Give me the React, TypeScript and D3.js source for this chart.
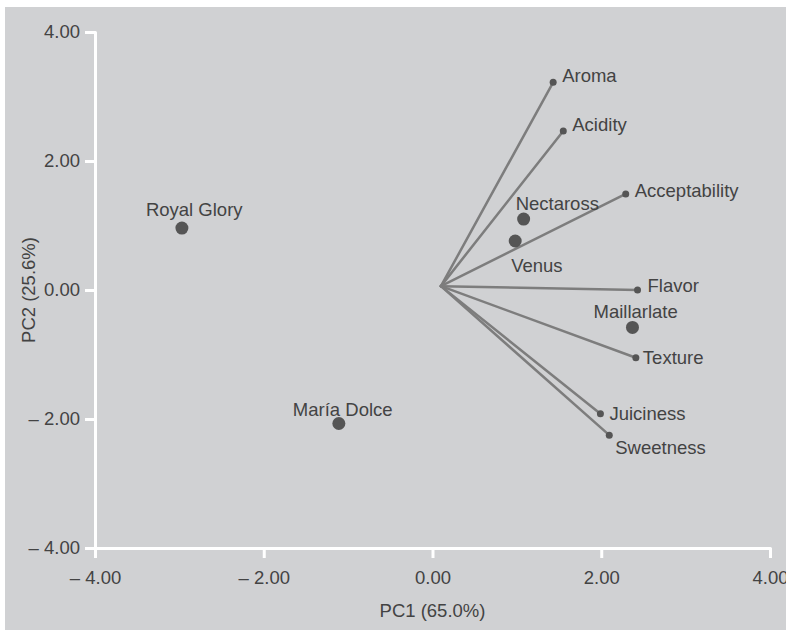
import React, { useEffect, useRef } from "react";
import * as d3 from "d3";

// ---- data ----
const sampleNames = ["Royal Glory", "María Dolce", "Nectaross", "Venus", "Maillarlate"];
const samplePC1 = [-2.97, -1.11, 1.08, 0.98, 2.37];
const samplePC2 = [0.96, -2.07, 1.1, 0.76, -0.58];

const attrNames = ["Aroma", "Acidity", "Acceptability", "Flavor", "Texture", "Juiciness", "Sweetness"];
const attrPC1 = [1.43, 1.55, 2.29, 2.43, 2.41, 1.99, 2.095];
const attrPC2 = [3.22, 2.465, 1.49, 0.0, -1.05, -1.92, -2.25];
const vectorOrigin = [0.1, 0.06];

const tickValues = [-4, -2, 0, 2, 4];
const xTitle = "PC1 (65.0%)";
const yTitle = "PC2 (25.6%)";

// ---- layout (label offsets in px) ----
const sampleLabelOffsets: [number, number][] = [
  [-36, -12],
  [-46, -8],
  [-8, -9],
  [-4, 31],
  [-39, -9],
];
const attrLabelOffsets: [number, number][] = [
  [9, 0],
  [9, 0],
  [9, 3],
  [10, 2],
  [7, 6],
  [9, 6],
  [6, 19],
];

const W = 786;
const H = 630;
const FONT = "'Liberation Sans', Arial, Helvetica, sans-serif";
const TEXT = "#434343";

const fmt = (v: number) => (v < 0 ? "\u2013 " + Math.abs(v).toFixed(2) : v.toFixed(2));

export default function App() {
  const ref = useRef<SVGSVGElement>(null);

  useEffect(() => {
    const svg = d3.select(ref.current);
    svg.selectAll("*").remove();

    const x = d3.scaleLinear().domain([-4, 4]).range([95, 770]);
    const y = d3.scaleLinear().domain([-4, 4]).range([548, 32]);

    svg.append("rect").attr("x", 0).attr("y", 0).attr("width", W).attr("height", H).attr("fill", "#ffffff");
    svg.append("rect").attr("x", 5).attr("y", 7).attr("width", W - 5).attr("height", H - 7).attr("fill", "#d0d1d3");

    // axes
    const styleAxis = (g: any) => {
      g.selectAll("path.domain").attr("stroke", "#ffffff").attr("stroke-width", 3).attr("stroke-linejoin", "round");
      g.selectAll(".tick line").attr("stroke", "#ffffff").attr("stroke-width", 3);
      g.selectAll(".tick text")
        .attr("fill", TEXT)
        .attr("font-family", FONT)
        .attr("font-size", 18.5);
    };

    const gx = svg
      .append("g")
      .attr("transform", `translate(0,${y(-4)})`)
      .call(
        d3.axisBottom(x).tickValues(tickValues).tickSize(10).tickPadding(13).tickFormat((d: any) => fmt(+d))
      );
    styleAxis(gx);

    const gy = svg
      .append("g")
      .attr("transform", `translate(${x(-4)},0)`)
      .call(
        d3.axisLeft(y).tickValues(tickValues).tickSize(10).tickPadding(5).tickFormat((d: any) => fmt(+d))
      );
    styleAxis(gy);

    // axis titles
    svg
      .append("text")
      .attr("x", (x(-4) + x(4)) / 2)
      .attr("y", 617)
      .attr("text-anchor", "middle")
      .attr("font-family", FONT)
      .attr("font-size", 18.5)
      .attr("fill", TEXT)
      .text(xTitle);

    svg
      .append("text")
      .attr("transform", `translate(35,${(y(-4) + y(4)) / 2}) rotate(-90)`)
      .attr("text-anchor", "middle")
      .attr("font-family", FONT)
      .attr("font-size", 18.5)
      .attr("fill", TEXT)
      .text(yTitle);

    // vectors
    const ox = x(vectorOrigin[0]);
    const oy = y(vectorOrigin[1]);
    const vg = svg.append("g");
    attrNames.forEach((name, i) => {
      const ex = x(attrPC1[i]);
      const ey = y(attrPC2[i]);
      vg.append("line")
        .attr("x1", ox)
        .attr("y1", oy)
        .attr("x2", ex)
        .attr("y2", ey)
        .attr("stroke", "#7d7d7d")
        .attr("stroke-width", 2.5)
        .attr("stroke-linecap", "round");
    });
    attrNames.forEach((name, i) => {
      const ex = x(attrPC1[i]);
      const ey = y(attrPC2[i]);
      vg.append("circle").attr("cx", ex).attr("cy", ey).attr("r", 3.5).attr("fill", "#555555");
      vg.append("text")
        .attr("x", ex + attrLabelOffsets[i][0])
        .attr("y", ey + attrLabelOffsets[i][1])
        .attr("font-family", FONT)
        .attr("font-size", 18.5)
        .attr("fill", TEXT)
        .text(name);
    });

    // samples
    const sg = svg.append("g");
    sampleNames.forEach((name, i) => {
      const cx = x(samplePC1[i]);
      const cy = y(samplePC2[i]);
      sg.append("circle").attr("cx", cx).attr("cy", cy).attr("r", 6.5).attr("fill", "#555555");
      sg.append("text")
        .attr("x", cx + sampleLabelOffsets[i][0])
        .attr("y", cy + sampleLabelOffsets[i][1])
        .attr("font-family", FONT)
        .attr("font-size", 18.5)
        .attr("fill", TEXT)
        .text(name);
    });
  }, []);

  return (
    <svg
      ref={ref}
      width={W}
      height={H}
      style={{ position: "absolute", left: 0, top: 0, display: "block" }}
    />
  );
}
